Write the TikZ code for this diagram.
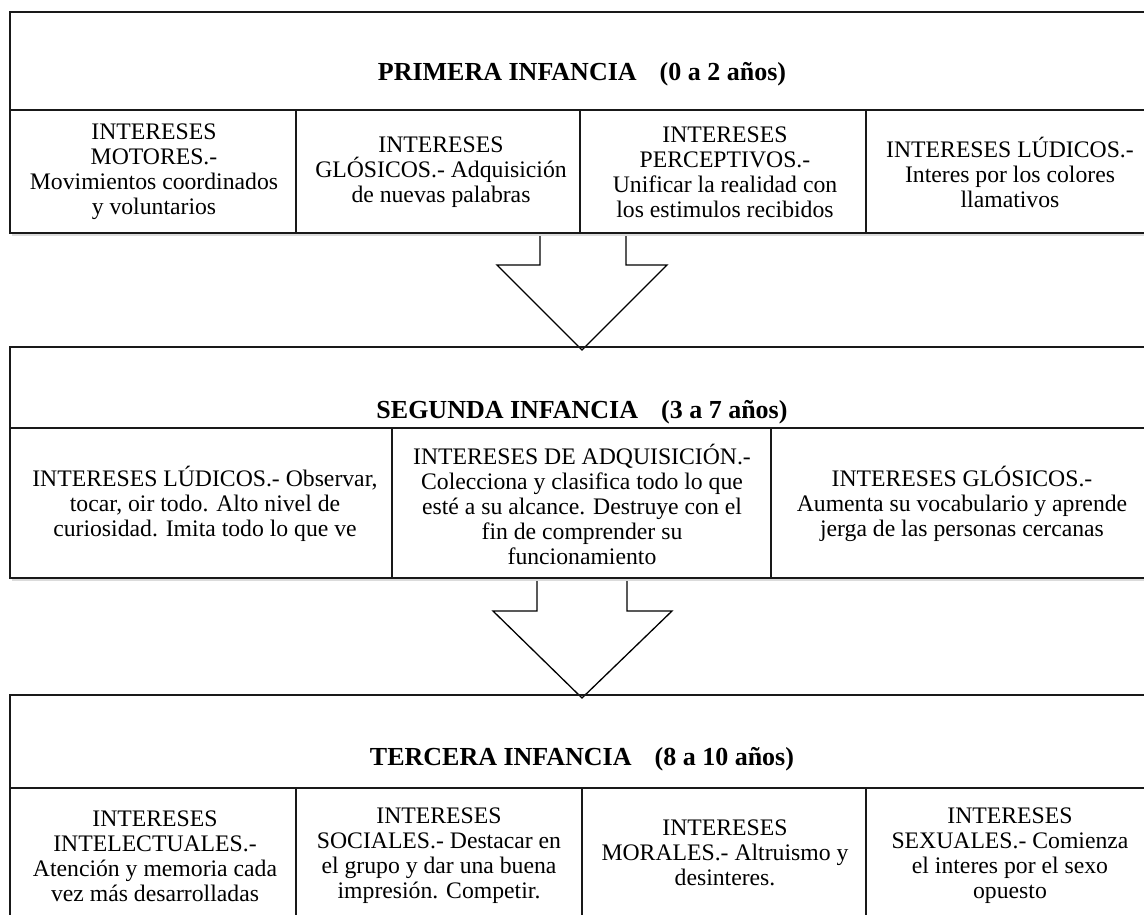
\documentclass[tikz,border=0pt]{standalone}
\usepackage{fontspec}
\setmainfont{Liberation Serif}
\usetikzlibrary{calc}
\begin{document}
\begin{tikzpicture}[x=1pt,y=-1pt,
  cell/.style={align=center, font=\fontsize{23.7}{25}\selectfont, inner sep=0pt},
  ttl/.style={anchor=base, font=\fontsize{26}{30}\selectfont\bfseries, inner sep=0pt},
  frame/.style={draw=black!90, line width=1.5pt},
  shade/.style={draw=black!14, line width=2pt},
  bigarrow/.style={draw=black, fill=white, line width=1.3pt, line join=miter}]
\useasboundingbox[fill=white] (0,0) rectangle (1144,915);

% ---------- arrows (drawn first, block lines lie over them)
\coordinate (a1s) at (582,233);
\coordinate (a1t) at (582,350);
\coordinate (a2s) at (582,578);
\coordinate (a2t) at (582,698);
\draw[bigarrow] ($(a1s)+(-42,0)$) -- ($(a1s)+(-42,32)$) -- ($(a1s)+(-85,32)$) -- (a1t)
   -- ($(a1s)+(85,32)$) -- ($(a1s)+(44,32)$) -- ($(a1s)+(44,0)$);
\draw[bigarrow] ($(a2s)+(-45,0)$) -- ($(a2s)+(-45,33)$) -- ($(a2s)+(-89,33)$) -- (a2t)
   -- ($(a2s)+(90,33)$) -- ($(a2s)+(45,33)$) -- ($(a2s)+(45,0)$);

% ---------- block 1
\draw[shade] (12,235) -- (1144,235);
\draw[frame] (1144,12) -- (10,12) -- (10,233) -- (1144,233);
\draw[frame] (10,110) -- (1144,110);
\draw[frame] (296,110) -- (296,233);
\draw[frame] (580,110) -- (580,233);
\draw[frame] (866,110) -- (866,233);
\node[ttl] (t1) at (582,81) {PRIMERA INFANCIA\hspace{23pt}(0 a 2 años)};
\node[cell] (p1) at (154,172) {INTERESES\\MOTORES.-\\Movimientos coordinados\\y voluntarios};
\node[cell] (p2) at (441,172) {INTERESES\\GLÓSICOS.- Adquisición\\de nuevas palabras};
\node[cell] (p3) at (725,172) {INTERESES\\PERCEPTIVOS.-\\Unificar la realidad con\\los estimulos recibidos};
\node[cell] (p4) at (1010,172) {INTERESES LÚDICOS.-\\Interes por los colores\\llamativos};

% ---------- block 2
\draw[shade] (12,580) -- (1144,580);
\draw[frame] (1144,347) -- (10,347) -- (10,578) -- (1144,578);
\draw[frame] (10,428) -- (1144,428);
\draw[frame] (392,428) -- (392,578);
\draw[frame] (771,428) -- (771,578);
\node[ttl] (t2) at (582,418) {SEGUNDA INFANCIA\hspace{23pt}(3 a 7 años)};
\node[cell] (s1) at (205,504) {INTERESES LÚDICOS.- Observar,\\tocar, oir todo. Alto nivel de\\curiosidad. Imita todo lo que ve};
\node[cell] (s2) at (582,504) {INTERESES DE ADQUISICIÓN.-\\Colecciona y clasifica todo lo que\\esté a su alcance. Destruye con el\\fin de comprender su\\funcionamiento};
\node[cell] (s3) at (962,504) {INTERESES GLÓSICOS.-\\Aumenta su vocabulario y aprende\\jerga de las personas cercanas};

% ---------- block 3
\draw[frame] (1144,695) -- (10,695) -- (10,915);
\draw[frame] (10,788) -- (1144,788);
\draw[frame] (296,788) -- (296,915);
\draw[frame] (582,788) -- (582,915);
\draw[frame] (866,788) -- (866,915);
\node[ttl] (t3) at (582,765) {TERCERA INFANCIA\hspace{23pt}(8 a 10 años)};
\node[cell] (r1) at (155,856) {INTERESES\\INTELECTUALES.-\\Atención y memoria cada\\vez más desarrolladas};
\node[cell] (r2) at (439,856) {INTERESES\\SOCIALES.- Destacar en\\el grupo y dar una buena\\impresión. Competir.};
\node[cell] (r3) at (725,853) {INTERESES\\MORALES.- Altruismo y\\desinteres.};
\node[cell] (r4) at (1010,856) {INTERESES\\SEXUALES.- Comienza\\el interes por el sexo\\opuesto};
\end{tikzpicture}
\end{document}
